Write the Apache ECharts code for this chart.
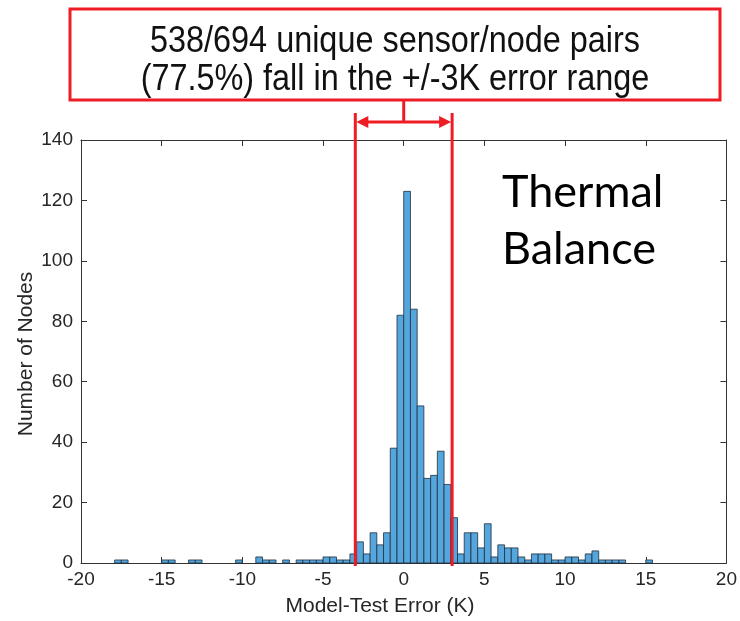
<!DOCTYPE html>
<html><head><meta charset="utf-8">
<script src="https://cdn.jsdelivr.net/npm/echarts@6/dist/echarts.min.js"></script>
<style>html,body{margin:0;padding:0;background:#fff}#c{width:740px;height:621px}</style>
</head><body><div id="c"></div>
<script>
// ---- data ----
const BIN_WIDTH = 5 / 12;           // histogram bin width (K)
const binIndex = [-43,-42,-36,-35,-32,-31,-25,-22,-21,-20,-18,-16,-15,-14,-13,-12,-11,-10,-9,-8,
  -7,-6,-5,-4,-3,-2,-1,0,1,2,3,4,5,6,7,8,9,10,11,12,13,14,15,16,17,18,19,20,21,22,23,24,25,26,27,28,29,30,31,32,36];
const nodeCounts = [1,1,1,1,1,1,1,2,1,1,1,1,1,1,1,2,2,1,1,3,
  7,3,10,6,10,38,82,123,84,52,28,29,37,26,15,3,10,10,5,13,2,6,5,5,2,1,3,3,3,1,1,2,2,1,3,4,1,1,1,1,1];
const xTicks = [-20,-15,-10,-5,0,5,10,15,20];
const yTicks = [0,20,40,60,80,100,120,140];
const rangeLimits = [-3, 3];
const boxLines = ['538/694 unique sensor/node pairs', '(77.5%) fall in the +/-3K error range'];
const sideLabel = ['Thermal', 'Balance'];
const xTitle = 'Model-Test Error (K)';
const yTitle = 'Number of Nodes';

const histData = binIndex.map((k, i) => [k * BIN_WIDTH, (k + 1) * BIN_WIDTH, nodeCounts[i]]);

const RED = '#ee1c24';
const AX = '#333333';
const FONT = 'Liberation Sans, Arial, sans-serif';

const chart = echarts.init(document.getElementById('c'), null, {renderer: 'canvas'});
function axisCommon() {
  return {
    axisLine: {show: true, onZero: false, lineStyle: {color: AX, width: 1}},
    axisTick: {show: true, inside: true, length: 6, lineStyle: {color: AX}},
    splitLine: {show: false}
  };
}
chart.setOption({
  animation: false,
  backgroundColor: '#fff',
  grid: {left: 81, right: 11, top: 140, bottom: 58},
  xAxis: [
    Object.assign({type: 'value', min: xTicks[0], max: xTicks[xTicks.length-1], interval: 5, position: 'bottom',
      axisLabel: {color: '#262626', fontSize: 19, fontFamily: FONT, margin: 7}}, axisCommon()),
    Object.assign({type: 'value', min: xTicks[0], max: xTicks[xTicks.length-1], interval: 5, position: 'top',
      axisLabel: {show: false}}, axisCommon())
  ],
  yAxis: [
    Object.assign({type: 'value', min: yTicks[0], max: yTicks[yTicks.length-1], interval: 20, position: 'left',
      axisLabel: {color: '#262626', fontSize: 19, fontFamily: FONT, margin: 8}}, axisCommon()),
    Object.assign({type: 'value', min: yTicks[0], max: yTicks[yTicks.length-1], interval: 20, position: 'right',
      axisLabel: {show: false}}, axisCommon())
  ],
  series: [{
    type: 'custom',
    xAxisIndex: 0, yAxisIndex: 0,
    data: histData,
    encode: {x: [0, 1], y: 2},
    renderItem: function (params, api) {
      const p0 = api.coord([api.value(0), api.value(2)]);
      const p1 = api.coord([api.value(1), 0]);
      return {type: 'rect', shape: {x: p0[0], y: p0[1], width: p1[0] - p0[0], height: p1[1] - p0[1]},
        style: {fill: '#55a6dd', stroke: '#1f2f3f', lineWidth: 0.8}};
    }
  }]
});

// annotations positioned from the axis scale
const xl = chart.convertToPixel({xAxisIndex: 0}, rangeLimits[0]);
const xr = chart.convertToPixel({xAxisIndex: 0}, rangeLimits[1]);
const yBase = chart.convertToPixel({yAxisIndex: 0}, 0);
const xm = (xl + xr) / 2;
const arrowY = 122;
chart.setOption({
  graphic: [
    {type: 'rect', shape: {x: 70, y: 9, width: 650, height: 91}, style: {fill: 'none', stroke: RED, lineWidth: 3}, z: 100},
    {type: 'text', x: 395, y: 42, scaleX: 0.9, style: {text: boxLines[0], fontSize: 36, fontFamily: FONT, fill: '#111', align: 'center', verticalAlign: 'middle'}, z: 100},
    {type: 'text', x: 395, y: 80, scaleX: 0.9, style: {text: boxLines[1], fontSize: 36, fontFamily: FONT, fill: '#111', align: 'center', verticalAlign: 'middle'}, z: 100},
    {type: 'line', shape: {x1: xm, y1: 100, x2: xm, y2: arrowY}, style: {stroke: RED, lineWidth: 3}, z: 100},
    {type: 'line', shape: {x1: xl + 8, y1: arrowY, x2: xr - 8, y2: arrowY}, style: {stroke: RED, lineWidth: 3}, z: 100},
    {type: 'polygon', shape: {points: [[xl + 1, arrowY], [xl + 13, arrowY - 6], [xl + 13, arrowY + 6]]}, style: {fill: RED}, z: 100},
    {type: 'polygon', shape: {points: [[xr - 1, arrowY], [xr - 13, arrowY - 6], [xr - 13, arrowY + 6]]}, style: {fill: RED}, z: 100},
    {type: 'line', shape: {x1: xl, y1: 113, x2: xl, y2: yBase + 3}, style: {stroke: RED, lineWidth: 3}, z: 100},
    {type: 'line', shape: {x1: xr, y1: 113, x2: xr, y2: yBase + 3}, style: {stroke: RED, lineWidth: 3}, z: 100},
    {type: 'text', x: 502, y: 192, style: {text: sideLabel[0], fontSize: 45, fontFamily: 'Lato, Open Sans, sans-serif', fill: '#000', align: 'left', verticalAlign: 'middle'}, z: 100},
    {type: 'text', x: 502, y: 249, style: {text: sideLabel[1], fontSize: 45, fontFamily: 'Lato, Open Sans, sans-serif', fill: '#000', align: 'left', verticalAlign: 'middle'}, z: 100},
    {type: 'text', x: 380, y: 606, style: {text: xTitle, fontSize: 21, fontFamily: FONT, fill: '#262626', align: 'center', verticalAlign: 'middle'}, z: 100},
    {type: 'text', x: 26, y: 354, rotation: Math.PI / 2, style: {text: yTitle, fontSize: 21, fontFamily: FONT, fill: '#262626', align: 'center', verticalAlign: 'middle'}, z: 100}
  ]
});
</script></body></html>
